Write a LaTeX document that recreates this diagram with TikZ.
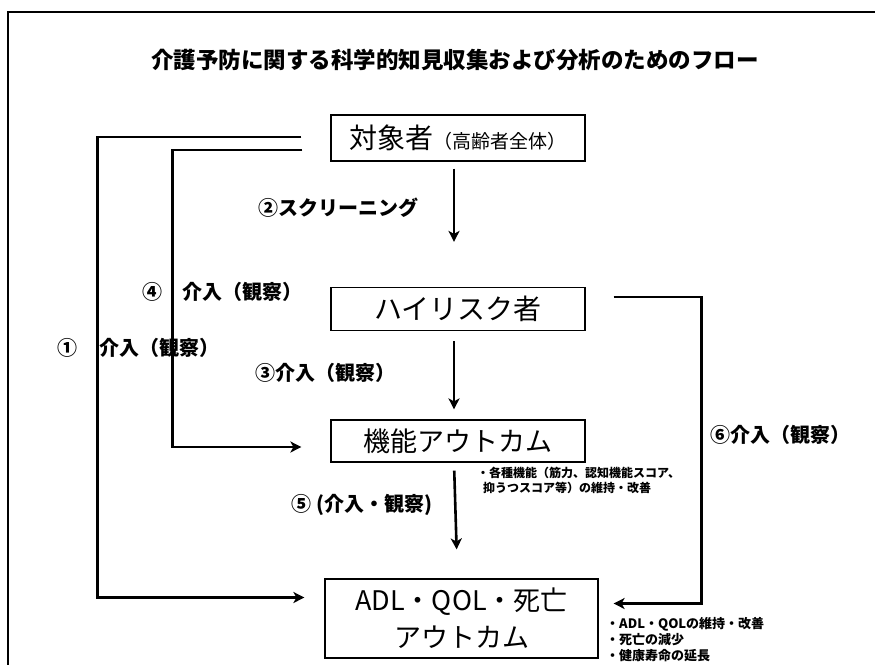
\documentclass[tikz,border=0pt]{standalone}
\usepackage{fontspec}
\setmainfont{Noto Sans CJK JP}
\usetikzlibrary{calc,arrows.meta}

\tikzset{
  box/.style={draw, line width=1.2pt, inner sep=0pt, align=center},
  flow/.style={line width=2.6pt, -{Stealth[length=11pt,width=11pt,inset=3pt]}},
  lbl/.style={font=\bfseries\fontsize{20}{22}\selectfont, inner sep=0pt, anchor=west},
  note/.style={font=\bfseries\fontsize{12}{15}\selectfont, inner sep=0pt, anchor=north west, align=left},
}

\begin{document}
\begin{tikzpicture}[x=1pt,y=-1pt]
		%%%%% START %%%%%
		\useasboundingbox (0,0) rectangle (875,664);
		\draw[line width=1.6pt] (8,700) -- (8,12) -- (900,12);
		
		\node[font=\bfseries\fontsize{22.5}{24}\selectfont, inner sep=0pt] (ttl) at (455,60) {介護予防に関する科学的知見収集および分析のためのフロー};
		
		% boxes
		\node[box, minimum width=254, minimum height=46] (obj) at (458,138)
		  {\fontsize{28}{30}\selectfont 対象者{\fontsize{19}{20}\selectfont （高齢者全体）}};
		\node[box, minimum width=254, minimum height=43, font=\fontsize{28}{30}\selectfont] (risk) at (458,309) {ハイリスク者};
		\node[box, minimum width=254, minimum height=42, font=\fontsize{27}{30}\selectfont] (func) at (458,441) {機能アウトカム};
		\node[box, minimum width=273, minimum height=79, font=\fontsize{27}{37}\selectfont] (adl) at (461.5,618.5) {ADL・QOL・死亡\\アウトカム};
		
		% straight arrows
		\draw[flow, shorten <=7pt, shorten >=45pt] ([xshift=-4]obj.south) -- ([xshift=-4]risk.north);
		\draw[flow, shorten <=10pt, shorten >=10pt] ([xshift=-4]risk.south) -- ([xshift=-4]func.north);
		\draw[flow, shorten <=8pt, shorten >=29pt] ([xshift=-4]func.south) -- ([xshift=-4]adl.north);
		
		% bypass arrows
		\draw[flow] ($(obj.west)+(-29,-1)$) -- ++(-204,0) |- ($(adl.west)+(-20,-21)$);
		\draw[flow] ($(obj.west)+(-28,12)$) -- ++(-130,0) |- ($(func.west)+(-29,6)$);
		\draw[flow] ($(risk.east)+(28,-12)$) -- ++(88,0) |- ($(adl.east)+(15,-15)$);
		
		% labels
		\node[lbl] (l1) at (57,348) {①\hspace{22pt}介入（観察）};
		\node[lbl] (l2) at (258,208) {②スクリーニング};
		\node[lbl] (l3) at (255,373) {③介入（観察）};
		\node[lbl] (l4) at (142,292) {④\hspace{20pt}介入（観察）};
		\node[lbl] (l5) at (291,505) {⑤\hspace{5pt}(介入・観察)};
		\node[lbl] (l6) at (710,435) {⑥介入（観察）};
		
		% notes
		\node[note] (nfunc) at (477,467) {・各種機能（筋力、認知機能スコア、\\\hspace{6pt}抑うつスコア等）の維持・改善};
		\node[note, font=\bfseries\fontsize{13}{16}\selectfont] (nadl) at (606,617) {・ADL・QOLの維持・改善\\・死亡の減少\\・健康寿命の延長};
		%%%%% END %%%%%
\end{tikzpicture}
\end{document}
